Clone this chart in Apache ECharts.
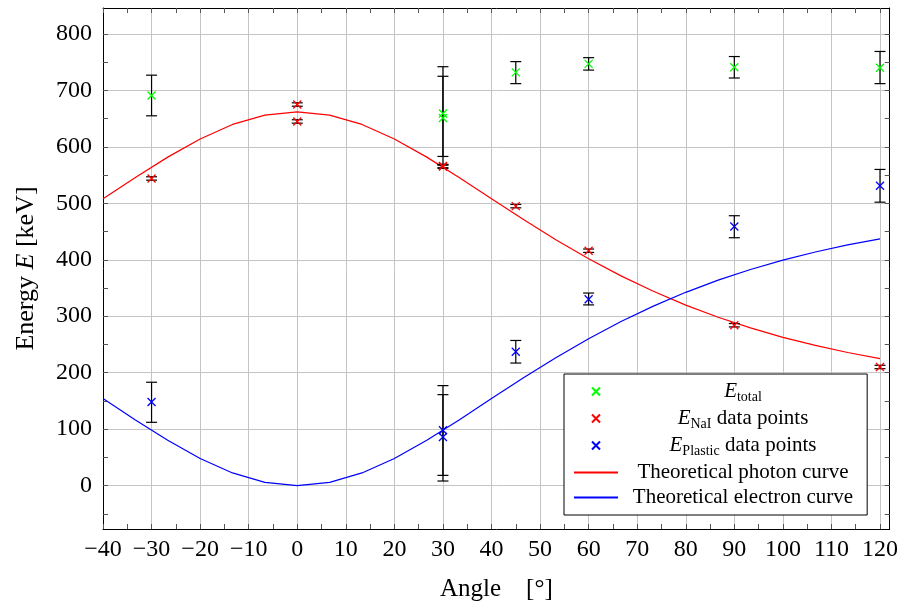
<!DOCTYPE html>
<html>
<head>
<meta charset="utf-8">
<script src="https://cdn.jsdelivr.net/npm/echarts@6.0.0/dist/echarts.min.js"></script>
<style>
html,body{margin:0;padding:0;background:#fff;}
#chart{width:901px;height:607px;}
</style>
</head>
<body>
<div id="chart"></div>
<script>
// ---------- data ----------
const totalAngles   = [-30, 30, 30, 45, 60, 90, 120];
const totalEnergy   = [691, 659, 651, 732, 747, 741, 740];
const totalErrLow   = [655, 583, 568, 712, 736, 722, 712];
const totalErrHigh  = [727, 742, 725, 751, 758, 760, 769];

const naiAngles     = [-30, 0, 0, 30, 30, 45, 60, 90, 120];
const naiEnergy     = [544, 675, 645, 566, 565, 495, 416, 284, 210];
const naiErrLow     = [541, 672, 642, 563, 562, 492, 413, 281, 207];
const naiErrHigh    = [547, 678, 648, 569, 568, 498, 419, 287, 213];

const plasticAngles  = [-30, 30, 30, 45, 60, 90, 120];
const plasticEnergy  = [148, 98, 86, 237, 330, 459, 531];
const plasticErrLow  = [112, 18, 8, 217, 320, 439, 502];
const plasticErrHigh = [183, 177, 161, 257, 341, 478, 560];

const curveAngles   = [-40, -33.33, -26.67, -20, -13.33, -6.67, 0, 6.67, 13.33, 20, 26.67, 33.33, 40,
                       46.67, 53.33, 60, 66.67, 73.33, 80, 86.67, 93.33, 100, 106.67, 113.33, 120];
const photonCurve   = [508.0, 545.7, 581.8, 614.0, 639.7, 656.3, 662.0, 656.3, 639.7, 614.0, 581.8, 545.7, 508.0,
                       470.7, 435.0, 401.8, 371.4, 344.1, 319.7, 298.2, 279.2, 262.6, 248.2, 235.7, 224.9];
const electronCurve = [154.0, 116.3, 80.2, 48.0, 22.3, 5.7, 0.0, 5.7, 22.3, 48.0, 80.2, 116.3, 154.0,
                       191.3, 227.0, 260.2, 290.6, 317.9, 342.3, 363.8, 382.8, 399.4, 413.8, 426.3, 437.1];

const xTickLabels = [-40, -30, -20, -10, 0, 10, 20, 30, 40, 50, 60, 70, 80, 90, 100, 110, 120];
const yTickLabels = [0, 100, 200, 300, 400, 500, 600, 700, 800];
const xTickMarks = []; for (let v = -40; v <= 120; v += 5) xTickMarks.push(v);
const yTickMarks = []; for (let v = -50; v <= 800; v += 50) yTickMarks.push(v);

// ---------- build ----------
const FONT = 'Liberation Serif';
const X_MIN = -40, X_MAX = 122, Y_MIN = -77, Y_MAX = 846;

function zip2(a, b) { return a.map((v, i) => [v, b[i]]); }
function zip3(a, b, c) { return a.map((v, i) => [v, b[i], c[i]]); }

const xMark = 'path://M0 0L10 10M10 0L0 10';

function errRender(params, api) {
  const x = api.value(0);
  const lo = api.coord([x, api.value(1)]);
  const hi = api.coord([x, api.value(2)]);
  const hw = 5.5;
  const st = { stroke: '#000', lineWidth: 1.2 };
  return {
    type: 'group',
    children: [
      { type: 'line', shape: { x1: lo[0], y1: lo[1], x2: hi[0], y2: hi[1] }, style: st },
      { type: 'line', shape: { x1: lo[0] - hw, y1: lo[1], x2: lo[0] + hw, y2: lo[1] }, style: st },
      { type: 'line', shape: { x1: hi[0] - hw, y1: hi[1], x2: hi[0] + hw, y2: hi[1] }, style: st }
    ]
  };
}

function errSeries(name, a, lo, hi) {
  return {
    name: name, type: 'custom', renderItem: errRender,
    data: zip3(a, lo, hi), z: 3, silent: true,
    encode: { x: 0, y: [1, 2] }
  };
}

function markSeries(name, a, e, color) {
  return {
    name: name, type: 'scatter', data: zip2(a, e), z: 5,
    symbol: xMark, symbolSize: 8,
    itemStyle: { color: 'rgba(0,0,0,0)', borderColor: color, borderWidth: 1.3, opacity: 1 },
    silent: true
  };
}

function curveSeries(name, a, e, color) {
  return {
    name: name, type: 'line', data: zip2(a, e),
    symbol: 'circle', showSymbol: false, symbolSize: 0,
    lineStyle: { color: color, width: 1.2 },
    itemStyle: { color: 'rgba(0,0,0,0)', borderWidth: 0, borderColor: 'rgba(0,0,0,0)' },
    z: 2, silent: true
  };
}

function tickAxis(min, max, pos, marks) {
  return {
    type: 'value', min: min, max: max, position: pos,
    axisLabel: { show: false },
    splitLine: { show: false },
    axisLine: { show: true, onZero: false, lineStyle: { color: '#000', width: 1 } },
    axisTick: { show: true, inside: true, length: 5, customValues: marks, lineStyle: { color: '#555', width: 1 } },
    silent: true
  };
}

const legendFmt = {
  'E_total':   '{e|E}{s|total}',
  'E_NaI':     '{e|E}{s|NaI}{t| data points}',
  'E_Plastic': '{e|E}{s|Plastic}{t| data points}',
  'photon':    '{t|Theoretical photon curve}',
  'electron':  '{t|Theoretical electron curve}'
};

const chart = echarts.init(document.getElementById('chart'), null, { renderer: 'canvas' });
chart.setOption({
  animation: false,
  backgroundColor: '#fff',
  grid: { left: 103, right: 9, top: 8, bottom: 76, show: false, containLabel: false },
  xAxis: [
    {
      type: 'value', min: X_MIN, max: X_MAX, interval: 10,
      name: 'Angle\u2003[°]', nameLocation: 'middle', nameGap: 48,
      nameTextStyle: { fontFamily: FONT, fontSize: 25, color: '#000' },
      axisLine: { show: false, onZero: false }, axisTick: { show: false },
      axisLabel: {
        fontFamily: FONT, fontSize: 24, color: '#000', margin: 9,
        customValues: xTickLabels,
        formatter: v => (v < 0 ? '\u2212' + Math.abs(v) : String(v))
      },
      splitLine: { show: true, showMinLine: false, showMaxLine: false, lineStyle: { color: '#c4c4c4', width: 1 } }
    },
    tickAxis(X_MIN, X_MAX, 'bottom', xTickMarks),
    tickAxis(X_MIN, X_MAX, 'top', xTickMarks)
  ],
  yAxis: [
    {
      type: 'value', min: Y_MIN, max: Y_MAX, splitNumber: 9,
      name: '{n|Energy }{i|E}{n| [keV]}', nameLocation: 'middle', nameGap: 64, nameRotate: 90,
      nameTextStyle: {
        color: '#000',
        rich: {
          n: { fontFamily: FONT, fontSize: 26, color: '#000' },
          i: { fontFamily: FONT, fontSize: 26, fontStyle: 'italic', color: '#000' }
        }
      },
      axisLine: { show: false, onZero: false }, axisTick: { show: false },
      axisLabel: {
        fontFamily: FONT, fontSize: 24, color: '#000', margin: 11,
        customValues: yTickLabels
      },
      splitLine: { show: true, showMinLine: false, showMaxLine: false, lineStyle: { color: '#c4c4c4', width: 1 } }
    },
    tickAxis(Y_MIN, Y_MAX, 'left', yTickMarks),
    tickAxis(Y_MIN, Y_MAX, 'right', yTickMarks)
  ],
  legend: {
    show: true, orient: 'vertical', left: 564, top: 374,
    selectedMode: false,
    data: ['E_total', 'E_NaI', 'E_Plastic', 'photon', 'electron'],
    itemWidth: 44, itemHeight: 8, itemGap: 4, itemTextGap: 5,
    padding: [7, 14, 7, 9],
    backgroundColor: '#fff', borderColor: '#000', borderWidth: 1, borderRadius: 0,
    formatter: name => legendFmt[name],
    textStyle: {
      width: 240, color: '#000', fontFamily: FONT, fontSize: 21,
      rich: {
        e: { fontFamily: FONT, fontSize: 21, fontStyle: 'italic', lineHeight: 24, align: 'center', color: '#000' },
        s: { fontFamily: FONT, fontSize: 14, padding: [11, 0, 0, 0], align: 'center', color: '#000' },
        t: { fontFamily: FONT, fontSize: 21, lineHeight: 24, align: 'center', color: '#000' }
      }
    },
    z: 10
  },
  series: [
    curveSeries('photon', curveAngles, photonCurve, '#ff0000'),
    curveSeries('electron', curveAngles, electronCurve, '#0000ff'),
    errSeries('err_total', totalAngles, totalErrLow, totalErrHigh),
    errSeries('err_nai', naiAngles, naiErrLow, naiErrHigh),
    errSeries('err_plastic', plasticAngles, plasticErrLow, plasticErrHigh),
    markSeries('E_total', totalAngles, totalEnergy, '#00ff00'),
    markSeries('E_NaI', naiAngles, naiEnergy, '#ff0000'),
    markSeries('E_Plastic', plasticAngles, plasticEnergy, '#0000ff')
  ]
});
</script>
</body>
</html>
